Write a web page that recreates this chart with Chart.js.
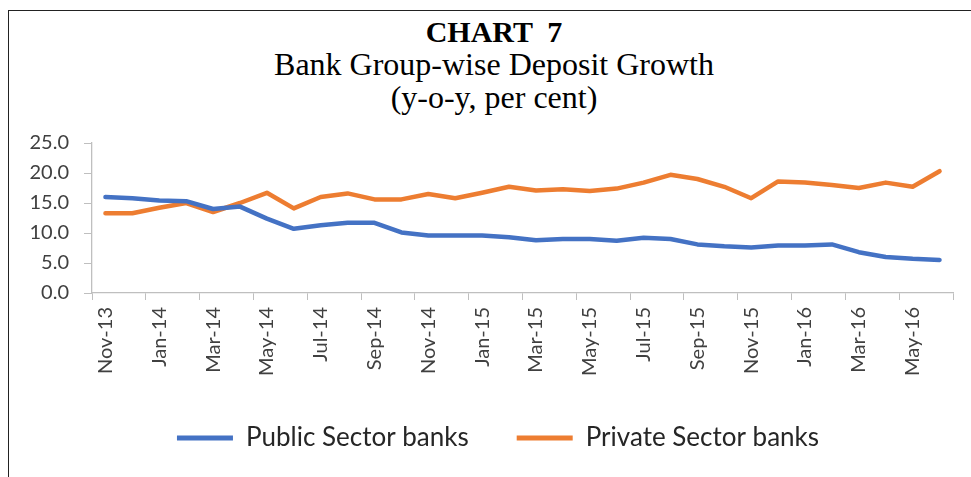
<!DOCTYPE html>
<html>
<head>
<meta charset="utf-8">
<script src="https://cdn.jsdelivr.net/npm/chart.js@4.4.1/dist/chart.umd.min.js"></script>
<style>
    html, body { margin: 0; padding: 0; background: #fff; overflow: hidden; }
    #frame { position: absolute; left: 8px; top: 10px; width: 1000px; height: 500px; border: 1.5px solid #222; }
    .ttl { position: absolute; left: 0; width: 988px; text-align: center; font-family: "Liberation Serif", "Times New Roman", serif; color: #000; white-space: pre; }
    #t1 { top: 15px; font-size: 30px; font-weight: bold; line-height: 33px; }
    #t2 { top: 48px; font-size: 32px; line-height: 33px; }
    #t3 { top: 81px; font-size: 32px; line-height: 33px; }
    #chart { position: absolute; left: 0; top: 0; }
</style>
</head>
<body>
<div id="frame"></div>
<div class="ttl" id="t1">CHART  7</div>
<div class="ttl" id="t2">Bank Group-wise Deposit Growth</div>
<div class="ttl" id="t3">(y-o-y, per cent)</div>
<canvas id="chart" width="971" height="477"></canvas>
<script>
// Datos (nov-13 a jun-16)
const months = ['Nov-13', 'Dec-13', 'Jan-14', 'Feb-14', 'Mar-14', 'Apr-14', 'May-14', 'Jun-14',
    'Jul-14', 'Aug-14', 'Sep-14', 'Oct-14', 'Nov-14', 'Dec-14', 'Jan-15', 'Feb-15',
    'Mar-15', 'Apr-15', 'May-15', 'Jun-15', 'Jul-15', 'Aug-15', 'Sep-15', 'Oct-15',
    'Nov-15', 'Dec-15', 'Jan-16', 'Feb-16', 'Mar-16', 'Apr-16', 'May-16', 'Jun-16'];
const publicSector = [16.0, 15.8, 15.4, 15.3, 14.0, 14.4, 12.4, 10.7, 11.3, 11.7, 11.7, 10.1,
    9.6, 9.6, 9.6, 9.3, 8.8, 9.0, 9.0, 8.7, 9.2, 9.0, 8.1, 7.8,
    7.6, 7.9, 7.9, 8.1, 6.8, 6.0, 5.7, 5.5];
const privateSector = [13.3, 13.3, 14.2, 15.0, 13.5, 15.0, 16.7, 14.1, 16.0, 16.6, 15.6, 15.6,
    16.5, 15.8, 16.7, 17.7, 17.1, 17.3, 17.0, 17.4, 18.4, 19.7, 19.0, 17.7,
    15.8, 18.6, 18.4, 18.0, 17.5, 18.4, 17.7, 20.3];
const yTicks = [0, 5, 10, 15, 20, 25];

const axisGray = '#BFBFBF';
const tickFont = { family: 'Lato', size: 20 };

// La leyenda va centrada sobre el área del gráfico, no sobre todo el lienzo
const legendShift = {
    id: 'legendShift',
    afterLayout(chart) {
        chart.legend.left += 43;
    }
};

const ctx = document.getElementById('chart').getContext('2d');
const depositChart = new Chart(ctx, {
    type: 'line',
    data: {
        labels: months,
        datasets: [
            {
                label: 'Public Sector banks',
                data: publicSector,
                borderColor: '#4472C4',
                backgroundColor: '#4472C4',
                borderWidth: 4.5,
                borderCapStyle: 'round',
                borderJoinStyle: 'round',
                pointRadius: 0,
                tension: 0
            },
            {
                label: 'Private Sector banks',
                data: privateSector,
                borderColor: '#ED7D31',
                backgroundColor: '#ED7D31',
                borderWidth: 4.5,
                borderCapStyle: 'round',
                borderJoinStyle: 'round',
                pointRadius: 0,
                tension: 0
            }
        ]
    },
    options: {
        responsive: false,
        animation: false,
        layout: {
            padding: { top: 143, right: 18, bottom: 16, left: 0 }
        },
        scales: {
            x: {
                offset: true,
                grid: {
                    offset: true,
                    drawOnChartArea: false,
                    drawTicks: true,
                    tickLength: 7,
                    color: c => (c.index === undefined || c.index % 2 === 0) ? axisGray : 'rgba(0,0,0,0)'
                },
                border: { color: axisGray, width: 1.3 },
                ticks: {
                    autoSkip: false,
                    minRotation: 90,
                    maxRotation: 90,
                    padding: 7,
                    color: '#404040',
                    font: tickFont,
                    callback: function(val, i) {
                        return i % 2 === 0 ? this.getLabelForValue(val) : '';
                    }
                },
                afterFit: scale => { scale.height = 84; }
            },
            y: {
                min: 0,
                max: 25,
                afterBuildTicks: scale => { scale.ticks = yTicks.map(v => ({ value: v })); },
                grid: {
                    drawOnChartArea: false,
                    drawTicks: true,
                    tickLength: 8,
                    color: axisGray
                },
                border: { color: axisGray, width: 1.3 },
                ticks: {
                    padding: 15,
                    color: '#404040',
                    font: tickFont,
                    callback: v => v.toFixed(1)
                },
                afterFit: scale => { scale.width = 92; }
            }
        },
        plugins: {
            legend: {
                position: 'bottom',
                labels: {
                    boxWidth: 56,
                    boxHeight: 5,
                    padding: 48,
                    color: '#262626',
                    font: { family: 'Lato', size: 26 },
                    generateLabels: chart => Chart.defaults.plugins.legend.labels.generateLabels(chart)
                        .map(item => Object.assign(item, { lineWidth: 0 }))
                }
            },
            tooltip: { enabled: false }
        }
    },
    plugins: [legendShift]
});
</script>
</body>
</html>
